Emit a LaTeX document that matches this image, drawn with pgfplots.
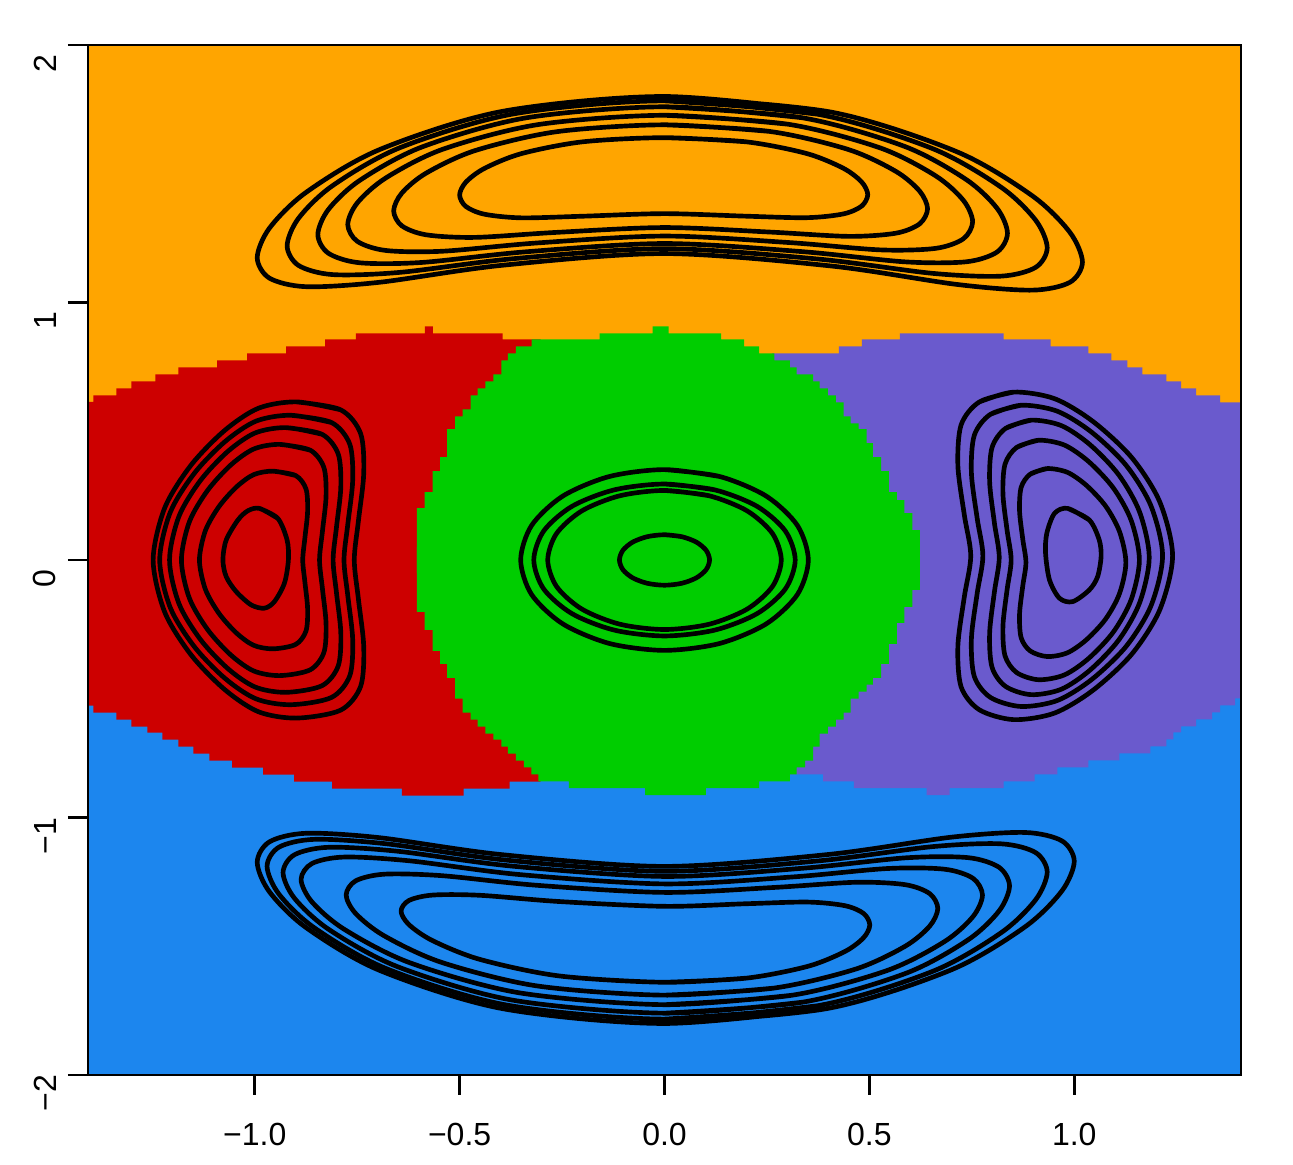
\documentclass[border=0pt]{standalone}
\usepackage{pgfplots}
\pgfplotsset{compat=1.18}
\usepackage{fontspec}
\setmainfont{Liberation Sans}
\usepackage{xcolor}

\definecolor{cOr}{HTML}{FFA500}
\definecolor{cRd}{HTML}{CD0000}
\definecolor{cGr}{HTML}{00CD00}
\definecolor{cBl}{HTML}{1C86EE}
\definecolor{cPu}{HTML}{6A5ACD}

\begin{document}
\begin{tikzpicture}
\begin{axis}[
    at={(0,0)}, anchor=south west,
    width=345.9pt, height=309pt, scale only axis,
    xmin=-1.407, xmax=1.407, ymin=-2, ymax=2,
    axis on top,
    axis line style={line width=0.4pt},
    xtick={-1,-0.5,0,0.5,1},
    xticklabels={−1.0,−0.5,0.0,0.5,1.0},
    ytick={-2,-1,0,1,2},
    yticklabels={−2,−1,0,1,2},
    xtick pos=bottom, ytick pos=left,
    tick align=outside, major tick length=6pt,
    tick style={line width=0.8pt, black},
    tick label style={font=\fontsize{9.6}{11}\selectfont},
    xticklabel style={yshift=-5pt},
    yticklabel style={rotate=90, anchor=south, xshift=-5.5pt},
    contour/.style={black, line width=1.4pt, smooth, line join=round},
]
% background halves
\addplot[fill=cOr, draw=none] coordinates {(-1.5,-0.01) (1.5,-0.01) (1.5,2.1) (-1.5,2.1)};
\addplot[fill=cBl, draw=none] coordinates {(-1.5,-2.1) (1.5,-2.1) (1.5,0.01) (-1.5,0.01)};

% red region
\addplot[fill=cRd, draw=none, const plot] coordinates {
    (-1.45,-0.05) (-1.45,0.6136) (-1.394,0.6395) (-1.3375,0.6667) (-1.301,0.6938)
    (-1.2426,0.7209) (-1.1866,0.7481) (-1.0916,0.7752) (-1.0185,0.8023) (-0.9235,0.8295)
    (-0.8285,0.8566) (-0.753,0.8798) (-0.585,0.907) (-0.5655,0.8798) (-0.395,0.8566)
    (-0.3025,0.8566) (-0.3025,-0.05)};
\addplot[fill=cRd, draw=none, const plot] coordinates {
    (-1.45,0.05) (-1.45,-0.5659) (-1.394,-0.593) (-1.3375,-0.6202) (-1.301,-0.6473)
    (-1.262,-0.6705) (-1.2255,-0.6977) (-1.1866,-0.7248) (-1.150,-0.7519) (-1.111,-0.7791)
    (-1.055,-0.8062) (-0.9795,-0.8333) (-0.904,-0.8605) (-0.8115,-0.8876) (-0.641,-0.9147)
    (-0.490,-0.8876) (-0.378,-0.8605) (-0.3025,-0.8605) (-0.3025,0.05)};

% purple region
\addplot[fill=cPu, draw=none, const plot] coordinates {
    (0.2625,-0.05) (0.2625,0.8023) (0.4257,0.8295) (0.4817,0.8566) (0.5743,0.8798)
    (0.8276,0.8566) (0.9421,0.8295) (1.0346,0.8023) (1.0906,0.7752) (1.1296,0.7481)
    (1.1661,0.7209) (1.2246,0.6938) (1.2611,0.6667) (1.2976,0.6395) (1.3561,0.6124)
    (1.45,0.6124) (1.45,-0.05)};
\addplot[fill=cPu, draw=none, const plot] coordinates {
    (0.2625,0.05) (0.2625,-0.8322) (0.3868,-0.8593) (0.4623,-0.8864) (0.64,-0.9136)
    (0.696,-0.8864) (0.8276,-0.8593) (0.9031,-0.8322) (0.9591,-0.805) (1.0346,-0.7779)
    (1.1101,-0.7508) (1.1856,-0.7236) (1.2246,-0.6965) (1.2416,-0.6694) (1.2611,-0.6461)
    (1.2976,-0.619) (1.3366,-0.5919) (1.3561,-0.5647) (1.3926,-0.5376) (1.45,-0.5376)
    (1.45,0.05)};

% green region
\addplot[fill=cGr, draw=none, const plot] coordinates {
    (-0.6045,-0.05) (-0.6045,0.2016) (-0.5857,0.2636) (-0.5662,0.345) (-0.5477,0.3992)
    (-0.5307,0.5078) (-0.5112,0.5581) (-0.4925,0.5853) (-0.4730,0.6395) (-0.4559,0.6667)
    (-0.4372,0.6938) (-0.4177,0.7209) (-0.3982,0.7752) (-0.3821,0.8023) (-0.3626,0.8295)
    (-0.3244,0.8566) (-0.1581,0.8798) (-0.029,0.907) (0.01,0.8798) (0.1383,0.8566)
    (0.1943,0.8295) (0.2309,0.8023) (0.2681,0.7752) (0.3057,0.7481) (0.3227,0.7209)
    (0.3624,0.6938) (0.3787,0.6667) (0.3989,0.6395) (0.4184,0.6124) (0.4372,0.5581)
    (0.4542,0.531) (0.4737,0.5078) (0.4932,0.4535) (0.5085,0.3992) (0.5287,0.345)
    (0.5475,0.2636) (0.567,0.2326) (0.5857,0.1822) (0.6047,0.1163) (0.623,0.1163)
    (0.623,-0.05)};
\addplot[fill=cGr, draw=none, const plot] coordinates {
    (-0.6045,0.05) (-0.6045,-0.2016) (-0.5857,-0.2713) (-0.5662,-0.3527) (-0.5477,-0.4031)
    (-0.5307,-0.4574) (-0.5112,-0.5388) (-0.4925,-0.593) (-0.4730,-0.6202) (-0.4559,-0.6473)
    (-0.4372,-0.6744) (-0.4177,-0.6977) (-0.3982,-0.7248) (-0.3821,-0.7519) (-0.3626,-0.7791)
    (-0.3432,-0.805) (-0.3251,-0.8322) (-0.3081,-0.8593) (-0.2336,-0.8864) (-0.0475,-0.9136)
    (0.1011,-0.8864) (0.2309,-0.8593) (0.3057,-0.8322) (0.3227,-0.805) (0.3429,-0.7791)
    (0.3624,-0.7248) (0.3787,-0.6744) (0.3989,-0.6473) (0.4184,-0.6202) (0.4372,-0.593)
    (0.4542,-0.5388) (0.4737,-0.5116) (0.4932,-0.4845) (0.5085,-0.4574) (0.5287,-0.4031)
    (0.5475,-0.3256) (0.567,-0.2442) (0.5857,-0.1822) (0.6047,-0.1163) (0.623,-0.1163)
    (0.623,0.05)};

% top contours
\addplot[contour] coordinates {(0,1.800) (0.408,1.7390) (0.714,1.5851) (0.8976,1.4143) (0.9894,1.2724) (1.02,1.1567) (0.9894,1.0784) (0.8976,1.0479) (0.714,1.0700) (0.408,1.1415) (0,1.190) (-0.3976,1.1442) (-0.6958,1.0784) (-0.8747,1.0613) (-0.9642,1.0946) (-0.994,1.174) (-0.9642,1.2886) (-0.8747,1.4277) (-0.6958,1.5935) (-0.3976,1.7417) (0,1.800) (0.408,1.7390)};
\addplot[contour] coordinates {(0,1.783) (0.3736,1.7311) (0.6538,1.5979) (0.8219,1.4471) (0.906,1.3191) (0.934,1.2121) (0.906,1.1366) (0.8219,1.1023) (0.6538,1.1132) (0.3736,1.1689) (0,1.209) (-0.3684,1.1702) (-0.6447,1.1171) (-0.8105,1.1084) (-0.8934,1.1441) (-0.921,1.2201) (-0.8934,1.3266) (-0.8105,1.4532) (-0.6447,1.6018) (-0.3684,1.7324) (0,1.783) (0.3736,1.7311)};
\addplot[contour] coordinates {(0,1.760) (0.3348,1.7177) (0.5859,1.6062) (0.7366,1.4771) (0.8119,1.3652) (0.837,1.2688) (0.8119,1.1963) (0.7366,1.1581) (0.5859,1.1579) (0.3348,1.1976) (0,1.229) (-0.3384,1.1968) (-0.5922,1.1555) (-0.7445,1.1543) (-0.8206,1.1916) (-0.846,1.2638) (-0.8206,1.3605) (-0.7445,1.4733) (-0.5922,1.6038) (-0.3384,1.7169) (0,1.760) (0.3348,1.7177)};
\addplot[contour] coordinates {(0,1.727) (0.3008,1.6924) (0.5264,1.6003) (0.6618,1.4918) (0.7294,1.3966) (0.752,1.3134) (0.7294,1.2474) (0.6618,1.2102) (0.5264,1.2043) (0.3008,1.2331) (0,1.258) (-0.3092,1.2314) (-0.5411,1.1991) (-0.6802,1.2020) (-0.7498,1.2375) (-0.773,1.3028) (-0.7498,1.3867) (-0.6802,1.4836) (-0.5411,1.5951) (-0.3092,1.6907) (0,1.727) (0.3008,1.6924)};
\addplot[contour] coordinates {(0,1.690) (0.2568,1.6643) (0.4494,1.5937) (0.565,1.5088) (0.6227,1.4324) (0.642,1.3640) (0.6227,1.3055) (0.565,1.2692) (0.4494,1.2568) (0.2568,1.2735) (0,1.291) (-0.2644,1.2722) (-0.4627,1.2528) (-0.5817,1.2628) (-0.6412,1.2978) (-0.661,1.3558) (-0.6412,1.4247) (-0.5817,1.5024) (-0.4627,1.5897) (-0.2644,1.6630) (0,1.690) (0.2568,1.6643)};
\addplot[contour] coordinates {(0,1.640) (0.1984,1.6241) (0.3472,1.5784) (0.4365,1.5212) (0.4811,1.4681) (0.496,1.4188) (0.4811,1.3743) (0.4365,1.3440) (0.3472,1.3293) (0.1984,1.3352) (0,1.345) (-0.2,1.3350) (-0.35,1.3287) (-0.44,1.3430) (-0.485,1.3731) (-0.5,1.4175) (-0.485,1.4669) (-0.44,1.5202) (-0.35,1.5778) (-0.2,1.6239) (0,1.640) (0.1984,1.6241)};

% bottom contours
\addplot[contour] coordinates {(0,-1.800) (0.4,-1.7411) (0.7,-1.5916) (0.88,-1.4246) (0.97,-1.2849) (1.0,-1.17) (0.97,-1.0909) (0.88,-1.0582) (0.7,-1.0765) (0.4,-1.1436) (0,-1.190) (-0.3976,-1.1442) (-0.6958,-1.0784) (-0.8747,-1.0613) (-0.9642,-1.0946) (-0.994,-1.174) (-0.9642,-1.2886) (-0.8747,-1.4277) (-0.6958,-1.5935) (-0.3976,-1.7417) (0,-1.800) (0.4,-1.7411)};
\addplot[contour] coordinates {(0,-1.783) (0.3736,-1.7311) (0.6538,-1.5979) (0.8219,-1.4471) (0.906,-1.3191) (0.934,-1.2121) (0.906,-1.1366) (0.8219,-1.1023) (0.6538,-1.1132) (0.3736,-1.1689) (0,-1.209) (-0.388,-1.1653) (-0.679,-1.1022) (-0.8536,-1.0848) (-0.9409,-1.1153) (-0.97,-1.1895) (-0.9409,-1.2978) (-0.8536,-1.4296) (-0.679,-1.5869) (-0.388,-1.7275) (0,-1.783) (0.3736,-1.7311)};
\addplot[contour] coordinates {(0,-1.760) (0.3368,-1.7173) (0.5894,-1.6049) (0.741,-1.475) (0.8167,-1.3626) (0.842,-1.266) (0.8167,-1.1937) (0.741,-1.156) (0.5894,-1.1566) (0.3368,-1.1972) (0,-1.229) (-0.3724,-1.1888) (-0.6517,-1.131) (-0.8193,-1.1157) (-0.9031,-1.1447) (-0.931,-1.214) (-0.9031,-1.3136) (-0.8193,-1.4347) (-0.6517,-1.5793) (-0.3724,-1.7089) (0,-1.760) (0.3368,-1.7173)};
\addplot[contour] coordinates {(0,-1.727) (0.3104,-1.6905) (0.5432,-1.5943) (0.6829,-1.4824) (0.7527,-1.3852) (0.776,-1.3013) (0.7527,-1.236) (0.6829,-1.2008) (0.5432,-1.1983) (0.3104,-1.2312) (0,-1.258) (-0.3548,-1.2215) (-0.6209,-1.1685) (-0.7806,-1.1536) (-0.8604,-1.1787) (-0.887,-1.2404) (-0.8604,-1.3279) (-0.7806,-1.4352) (-0.6209,-1.5645) (-0.3548,-1.6808) (0,-1.727) (0.3104,-1.6905)};
\addplot[contour] coordinates {(0,-1.690) (0.2668,-1.6626) (0.4669,-1.5885) (0.587,-1.5004) (0.647,-1.4223) (0.667,-1.3532) (0.647,-1.2954) (0.587,-1.2608) (0.4669,-1.2516) (0.2668,-1.2718) (0,-1.291) (-0.3108,-1.2634) (-0.5439,-1.2259) (-0.6838,-1.2202) (-0.7537,-1.246) (-0.777,-1.3008) (-0.7537,-1.3729) (-0.6838,-1.4598) (-0.5439,-1.5628) (-0.3108,-1.6542) (0,-1.690) (0.2668,-1.6626)};
\addplot[contour] coordinates {(0,-1.640) (0.2004,-1.6238) (0.3507,-1.5776) (0.4409,-1.5199) (0.486,-1.4666) (0.501,-1.4172) (0.486,-1.3728) (0.4409,-1.3427) (0.3507,-1.3285) (0.2004,-1.3349) (0,-1.345) (-0.2572,-1.3264) (-0.4501,-1.3022) (-0.5658,-1.3013) (-0.6237,-1.3223) (-0.643,-1.3636) (-0.6237,-1.4161) (-0.5658,-1.4785) (-0.4501,-1.5513) (-0.2572,-1.6153) (0,-1.640) (0.2004,-1.6238)};

% left contours
\addplot[contour] coordinates {(-0.8985,0.614) (-0.7905,0.5833) (-0.7417,0.4912) (-0.734,0.3377) (-0.7469,0.1535) (-0.7571,0) (-0.7469,-0.1535) (-0.734,-0.3377) (-0.7417,-0.4912) (-0.7905,-0.5833) (-0.8985,-0.614) (-0.991,-0.5894) (-1.0732,-0.5035) (-1.1555,-0.3684) (-1.2197,-0.2026) (-1.248,0) (-1.2197,0.2026) (-1.1555,0.3684) (-1.0732,0.5035) (-0.991,0.5894) (-0.8985,0.614) (-0.7905,0.5833)};
\addplot[contour] coordinates {(-0.9117,0.562) (-0.8128,0.5339) (-0.7681,0.4496) (-0.761,0.3091) (-0.7728,0.1405) (-0.7822,0) (-0.7728,-0.1405) (-0.761,-0.3091) (-0.7681,-0.4496) (-0.8128,-0.5339) (-0.9117,-0.562) (-0.9965,-0.5395) (-1.0719,-0.4608) (-1.1472,-0.3372) (-1.2061,-0.1855) (-1.232,0) (-1.2061,0.1855) (-1.1472,0.3372) (-1.0719,0.4608) (-0.9965,0.5395) (-0.9117,0.562) (-0.8128,0.5339)};
\addplot[contour] coordinates {(-0.9238,0.514) (-0.836,0.4883) (-0.7963,0.4112) (-0.790,0.2827) (-0.8005,0.1285) (-0.8088,0) (-0.8005,-0.1285) (-0.790,-0.2827) (-0.7963,-0.4112) (-0.836,-0.4883) (-0.9238,-0.514) (-0.999,-0.4934) (-1.0659,-0.4215) (-1.1328,-0.3084) (-1.185,-0.1696) (-1.208,0) (-1.185,0.1696) (-1.1328,0.3084) (-1.0659,0.4215) (-0.999,0.4934) (-0.9238,0.514) (-0.836,0.4883)};
\addplot[contour] coordinates {(-0.939,0.449) (-0.8648,0.4266) (-0.8313,0.3592) (-0.826,0.247) (-0.8348,0.1123) (-0.8419,0) (-0.8348,-0.1123) (-0.826,-0.247) (-0.8313,-0.3592) (-0.8648,-0.4266) (-0.939,-0.449) (-1.0025,-0.431) (-1.059,-0.3682) (-1.1155,-0.2694) (-1.1596,-0.1482) (-1.179,0) (-1.1596,0.1482) (-1.1155,0.2694) (-1.059,0.3682) (-1.0025,0.431) (-0.939,0.449) (-0.8648,0.4266)};
\addplot[contour] coordinates {(-0.9555,0.345) (-0.9,0.3278) (-0.875,0.276) (-0.871,0.1898) (-0.8776,0.0863) (-0.8829,0) (-0.8776,-0.0863) (-0.871,-0.1898) (-0.875,-0.276) (-0.9,-0.3278) (-0.9555,-0.345) (-1.003,-0.3312) (-1.0452,-0.2829) (-1.0875,-0.207) (-1.1205,-0.1139) (-1.135,0) (-1.1205,0.1139) (-1.0875,0.207) (-1.0452,0.2829) (-1.003,0.3312) (-0.9555,0.345) (-0.9,0.3278)};
\addplot[contour] coordinates {(-0.9885,0.2004) (-0.9438,0.1616) (-0.9211,0.0775) (-0.9179,0) (-0.9277,-0.0903) (-0.952,-0.1616) (-0.9764,-0.1872) (-1.0088,-0.1744) (-1.0453,-0.1229) (-1.0697,-0.0647) (-1.0777,0) (-1.0697,0.0775) (-1.0412,0.155) (-1.0168,0.1911) (-0.9885,0.2004) (-0.9438,0.1616)};

% right contours
\addplot[contour] coordinates {(0.8522,0.652) (0.7684,0.6138) (0.7239,0.5248) (0.716,0.3658) (0.7317,0.175) (0.7474,0.016) (0.7317,-0.143) (0.716,-0.3338) (0.7239,-0.4928) (0.7684,-0.5818) (0.8522,-0.620) (0.9518,-0.5946) (1.0461,-0.5055) (1.1404,-0.3656) (1.2086,-0.1939) (1.240,0.016) (1.2086,0.2259) (1.1404,0.3976) (1.0461,0.5375) (0.9518,0.6266) (0.8522,0.652) (0.7684,0.6138)};
\addplot[contour] coordinates {(0.8703,0.601) (0.7956,0.5659) (0.756,0.484) (0.749,0.3378) (0.763,0.1623) (0.777,0.016) (0.763,-0.1303) (0.749,-0.3058) (0.756,-0.452) (0.7956,-0.5339) (0.8703,-0.569) (0.9589,-0.5456) (1.0429,-0.4637) (1.1269,-0.335) (1.1875,-0.1771) (1.2155,0.016) (1.1875,0.2091) (1.1269,0.367) (1.0429,0.4957) (0.9589,0.5776) (0.8703,0.601) (0.7956,0.5659)};
\addplot[contour] coordinates {(0.8948,0.543) (0.8324,0.511) (0.7993,0.4364) (0.7935,0.3032) (0.8052,0.1433) (0.8169,0.01) (0.8052,-0.1233) (0.7935,-0.2832) (0.7993,-0.4164) (0.8324,-0.491) (0.8948,-0.523) (0.9688,-0.5017) (1.0389,-0.4271) (1.109,-0.3098) (1.1596,-0.1659) (1.183,0.01) (1.1596,0.1859) (1.109,0.3298) (1.0389,0.4471) (0.9688,0.5217) (0.8948,0.543) (0.8324,0.511)};
\addplot[contour] coordinates {(0.9126,0.465) (0.8593,0.4371) (0.831,0.372) (0.826,0.2558) (0.836,0.1163) (0.846,0) (0.836,-0.1163) (0.826,-0.2558) (0.831,-0.372) (0.8593,-0.4371) (0.9126,-0.465) (0.9758,-0.4464) (1.0358,-0.3813) (1.0957,-0.279) (1.139,-0.1535) (1.159,0) (1.139,0.1535) (1.0957,0.279) (1.0358,0.3813) (0.9758,0.4464) (0.9126,0.465) (0.8593,0.4371)};
\addplot[contour] coordinates {(0.934,0.355) (0.8924,0.3331) (0.8704,0.282) (0.8665,0.1908) (0.8743,0.0813) (0.8821,-0.01) (0.8743,-0.1013) (0.8665,-0.2108) (0.8704,-0.302) (0.8924,-0.3531) (0.934,-0.375) (0.9833,-0.3604) (1.03,-0.3093) (1.0767,-0.229) (1.1104,-0.1305) (1.126,-0.01) (1.1104,0.1105) (1.0767,0.209) (1.03,0.2893) (0.9833,0.3404) (0.934,0.355) (0.8924,0.3331)};
\addplot[contour] coordinates {(0.984,0.2004) (1.037,0.155) (1.061,0.0775) (1.0655,0.0128) (1.057,-0.0647) (1.037,-0.116) (0.9963,-0.1616) (0.964,-0.1486) (0.9396,-0.0775) (0.930,0.026) (0.933,0.1035) (0.9518,0.181) (0.984,0.2004) (1.037,0.155)};

% centre contours
\addplot[contour] coordinates {(0,0.351) (0.1343,0.3243) (0.2482,0.2482) (0.3243,0.1343) (0.351,0) (0.3243,-0.1343) (0.2482,-0.2482) (0.1343,-0.3243) (0,-0.351) (-0.1343,-0.3243) (-0.2482,-0.2482) (-0.3243,-0.1343) (-0.351,0) (-0.3243,0.1343) (-0.2482,0.2482) (-0.1343,0.3243) (0,0.351) (0.1343,0.3243)};
\addplot[contour] coordinates {(0,0.295) (0.1221,0.2725) (0.2256,0.2086) (0.2947,0.1129) (0.319,0) (0.2947,-0.1129) (0.2256,-0.2086) (0.1221,-0.2725) (0,-0.295) (-0.1221,-0.2725) (-0.2256,-0.2086) (-0.2947,-0.1129) (-0.319,0) (-0.2947,0.1129) (-0.2256,0.2086) (-0.1221,0.2725) (0,0.295) (0.1221,0.2725)};
\addplot[contour] coordinates {(0,0.27) (0.1091,0.2494) (0.2015,0.1909) (0.2633,0.1033) (0.285,0) (0.2633,-0.1033) (0.2015,-0.1909) (0.1091,-0.2494) (0,-0.27) (-0.1091,-0.2494) (-0.2015,-0.1909) (-0.2633,-0.1033) (-0.285,0) (-0.2633,0.1033) (-0.2015,0.1909) (-0.1091,0.2494) (0,0.27) (0.1091,0.2494)};
\addplot[contour] coordinates {(0,0.098) (0.0421,0.0905) (0.0778,0.0693) (0.1016,0.0375) (0.11,0) (0.1016,-0.0375) (0.0778,-0.0693) (0.0421,-0.0905) (0,-0.098) (-0.0421,-0.0905) (-0.0778,-0.0693) (-0.1016,-0.0375) (-0.11,0) (-0.1016,0.0375) (-0.0778,0.0693) (-0.0421,0.0905) (0,0.098) (0.0421,0.0905)};
\end{axis}
\pgfresetboundingbox
\path[use as bounding box] (-26.4pt,-27pt) rectangle (361.5pt,322.5pt);
\end{tikzpicture}
\end{document}
